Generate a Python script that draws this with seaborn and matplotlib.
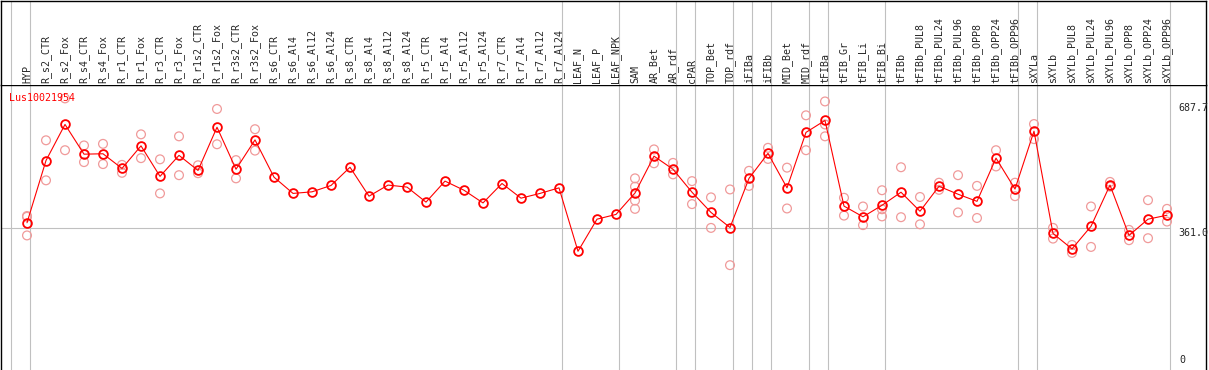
import numpy as np
import pandas as pd
import matplotlib
matplotlib.use('Agg')
import matplotlib.pyplot as plt
import seaborn as sns

# sample names (column headers)
samples = ['HYP', 'R_s2_CTR', 'R_s2_Fox', 'R_s4_CTR', 'R_s4_Fox', 'R_r1_CTR', 'R_r1_Fox',
           'R_r3_CTR', 'R_r3_Fox', 'R_r1s2_CTR', 'R_r1s2_Fox', 'R_r3s2_CTR', 'R_r3s2_Fox',
           'R_s6_CTR', 'R_s6_Al4', 'R_s6_Al12', 'R_s6_Al24', 'R_s8_CTR', 'R_s8_Al4', 'R_s8_Al12',
           'R_s8_Al24', 'R_r5_CTR', 'R_r5_Al4', 'R_r5_Al12', 'R_r5_Al24', 'R_r7_CTR', 'R_r7_Al4',
           'R_r7_Al12', 'R_r7_Al24', 'LEAF_N', 'LEAF_P', 'LEAF_NPK', 'SAM', 'AR_Bet', 'AR_rdf',
           'cPAR', 'TOP_Bet', 'TOP_rdf', 'iFIBa', 'iFIBb', 'MID_Bet', 'MID_rdf', 'tFIBa',
           'tFIB_Gr', 'tFIB_Li', 'tFIB_Bi', 'tFIBb', 'tFIBb_PUL8', 'tFIBb_PUL24', 'tFIBb_PUL96',
           'tFIBb_OPP8', 'tFIBb_OPP24', 'tFIBb_OPP96', 'sXYLa', 'sXYLb', 'sXYLb_PUL8',
           'sXYLb_PUL24', 'sXYLb_PUL96', 'sXYLb_OPP8', 'sXYLb_OPP24', 'sXYLb_OPP96']

# number of samples in each tissue group (separated by grey lines)
group_sizes = [1, 28, 3, 3, 1, 2, 1, 1, 2, 1, 3, 7, 1, 7]

# mean expression
means = [374, 531, 622, 547, 548, 511, 568, 491, 544, 506, 615, 509, 583,
         489, 448, 452, 468, 514, 441, 469, 464, 426, 479, 456, 424, 473, 436, 448, 462,
         302, 383, 395, 449, 542, 509, 451, 400, 362, 486, 549, 462, 602, 632,
         416, 389, 418, 451, 403, 466, 446, 428, 537, 459, 605, 347, 308, 365, 469, 342, 383, 393]

# replicate values
replicates = [[389, 391, 342], [582, 481], [687.7, 557], [569, 527], [573, 522], [520, 500],
              [597, 537], [534, 448], [592, 494], [519, 499], [661, 572], [532, 486], [610, 556],
              [], [], [], [], [], [], [], [], [], [], [], [], [], [], [], [],
              [], [], [],
              [486, 465, 430, 409], [559, 524], [525, 496], [479, 421], [438, 361], [458, 267],
              [505, 467], [563, 535], [513, 410], [645, 557], [680, 622, 592],
              [437, 392], [415, 368], [456, 408, 390], [514, 388], [439, 370], [475, 457],
              [494, 400], [467, 386], [557, 516], [475, 441], [623, 585], [361, 334],
              [318, 298], [415, 313], [477, 465], [356, 330], [431, 335], [409, 377]]

gene = 'Lus10021954'
axis_labels = ['687.7', '361.0', '0']

pos = np.arange(len(samples))
df_mean = pd.DataFrame({'pos': pos, 'value': means})
rep_pos, rep_val = [], []
for i, r in enumerate(replicates):
    for v in r:
        rep_pos.append(i)
        rep_val.append(v)
df_rep = pd.DataFrame({'pos': rep_pos, 'value': rep_val})

sns.set_style('white')
plt.rcParams['font.family'] = ['DejaVu Sans Mono']
plt.rcParams['font.size'] = 7.2

W, H = 1209, 370
fig = plt.figure(figsize=(W / 100, H / 100), dpi=100)
x0, x1 = 1, 1206
head_h = 85
ax = fig.add_axes([x0 / W, 0, (x1 - x0) / W, (H - head_h) / H])
ax_head = fig.add_axes([x0 / W, (H - head_h) / H, (x1 - x0) / W, (head_h - 0.5) / H])

xlim = ((x0 - 27) / 19, (x1 - 27) / 19)
grey = '#c0c0c0'

# group separators
bounds = np.concatenate([[-1], np.cumsum(group_sizes) - 1]) + 0.16

for a in (ax, ax_head):
    a.set_xlim(*xlim)
    for b in bounds:
        a.axvline(b, color=grey, lw=0.8, zorder=0)
    a.set_xticks([])
    a.set_yticks([])
    for s in ['left', 'right', 'top']:
        a.spines[s].set_color('black')
        a.spines[s].set_linewidth(1.0)
    a.spines['bottom'].set_visible(False)

ax.set_ylim(2.5, 721.5)
ax.hlines(361.0, xlim[0], bounds[-1], color=grey, lw=0.8, zorder=0)

sns.scatterplot(data=df_rep, x='pos', y='value', ax=ax, marker='o', s=40,
                facecolor='none', edgecolor='#f09a9a', linewidth=0.9, zorder=2, legend=False)
ax.collections[-1].set_facecolor('none')
sns.lineplot(data=df_mean, x='pos', y='value', ax=ax, color='red', lw=0.8,
             marker='o', markersize=6.3, markerfacecolor='none', markeredgecolor='red',
             markeredgewidth=1.3, zorder=3, legend=False)
ax.set_xlabel('')
ax.set_ylabel('')
ax.set_xlim(*xlim)
ax.set_ylim(2.5, 721.5)

ax.text(8 / (x1 - x0), 1 - 8 / (H - head_h), gene, color='red', va='top', ha='left',
        transform=ax.transAxes)

lab_x = (1178 - 27) / 19
ax.annotate(axis_labels[0], (lab_x, 687.7), xytext=(0, -4.5), textcoords='offset pixels',
            va='top', ha='left', annotation_clip=False)
ax.annotate(axis_labels[1], (lab_x, 361.0), xytext=(0, 0), textcoords='offset pixels',
            va='top', ha='left', annotation_clip=False)
ax.annotate(axis_labels[2], (lab_x, 0), xytext=(1, 6), textcoords='offset pixels',
            va='bottom', ha='left', annotation_clip=False)

ax_head.set_ylim(0, 1)
for i, name in enumerate(samples):
    ax_head.text(i, 2 / head_h, name, rotation=90, ha='center', va='bottom')

fig.savefig('out.png', dpi=100)
